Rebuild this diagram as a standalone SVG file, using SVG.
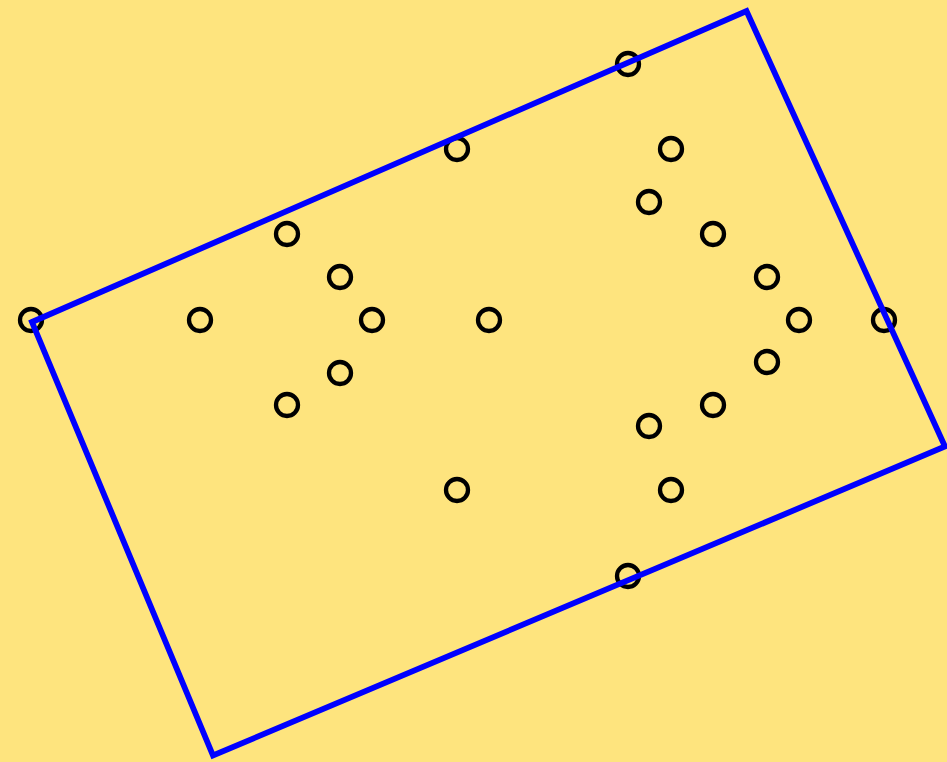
<svg xmlns="http://www.w3.org/2000/svg" width="947" height="762" viewBox="0 0 947 762">
<style>
.c{fill:none;stroke:#000;stroke-width:4.3}
.r{fill:none;stroke:#0000ff;stroke-width:5.8;stroke-linejoin:miter}
</style>
<rect width="947" height="762" fill="#fee47e"/>
<g id="circles">
<circle class="c" cx="31" cy="320" r="11"/>
<circle class="c" cx="628" cy="64" r="11"/>
<circle class="c" cx="457" cy="149" r="11"/>
<circle class="c" cx="671" cy="149" r="11"/>
<circle class="c" cx="649" cy="202" r="11"/>
<circle class="c" cx="287" cy="234" r="11"/>
<circle class="c" cx="713" cy="234" r="11"/>
<circle class="c" cx="340" cy="277" r="11"/>
<circle class="c" cx="767" cy="277" r="11"/>
<circle class="c" cx="200" cy="320" r="11"/>
<circle class="c" cx="372" cy="320" r="11"/>
<circle class="c" cx="489" cy="320" r="11"/>
<circle class="c" cx="799" cy="320" r="11"/>
<circle class="c" cx="884" cy="320" r="11"/>
<circle class="c" cx="340" cy="373" r="11"/>
<circle class="c" cx="767" cy="362" r="11"/>
<circle class="c" cx="287" cy="405" r="11"/>
<circle class="c" cx="713" cy="405" r="11"/>
<circle class="c" cx="649" cy="426" r="11"/>
<circle class="c" cx="457" cy="490" r="11"/>
<circle class="c" cx="671" cy="490" r="11"/>
<circle class="c" cx="628" cy="576" r="11"/>
</g>
<g id="rectangle">
<polygon class="r" points="32,322 746.5,11 945,446.5 213,755.5"/>
</g>
</svg>
